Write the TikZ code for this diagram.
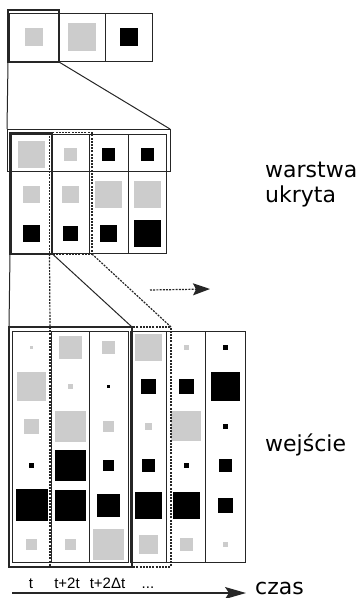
\documentclass[tikz,border=0pt]{standalone}
\usepackage{fontspec}
\setmainfont{DejaVu Sans}
\newfontfamily\ticksfont{Liberation Sans}
\usepackage{xcolor}
\usetikzlibrary{arrows.meta}
\definecolor{sqgray}{HTML}{CCCCCC}
\definecolor{framecol}{HTML}{262626}
\tikzset{
	cellframe/.style={draw=framecol,line width=1pt},
	selframe/.style={draw=framecol,line width=1.4pt},
	dotframe/.style={draw=framecol,line width=1.2pt,dash pattern=on 2pt off 1.2pt},
	sidetext/.style={font=\fontsize{22}{24.5}\selectfont,anchor=base west,inner sep=0pt,align=left},
	ticktext/.style={font=\ticksfont\fontsize{15}{15}\selectfont,anchor=base,inner sep=0pt}
}

\begin{document}
\begin{tikzpicture}[x=1pt,y=-1pt]
		\useasboundingbox (0,0) rectangle (362,598);
		\foreach \xa/\xb/\s/\c in {9/59/18/sqgray,59/105/28/sqgray,105/152/18/black}{
			\draw[cellframe] (\xa,13) rectangle (\xb,61);
			\fill[fill=\c] ({(\xa+\xb)/2-\s/2},{37-\s/2}) rectangle ++(\s,\s);
		}
		\coordinate (top sel nw) at (8,10);
		\coordinate (top sel se) at (59,62);
		\draw[selframe] (top sel nw) rectangle (top sel se);
		\coordinate (hid row nw) at (7,129);
		\coordinate (hid row se) at (170,171);
		\draw[cellframe] (hid row nw) rectangle (hid row se);
		\draw[cellframe] (top sel nw |- top sel se) -- (hid row nw);
		\draw[cellframe] (top sel se) -- (hid row nw -| hid row se);
		\foreach \xa/\xb/\list in {11/51/{27/sqgray,17/sqgray,17/black},51/89.5/{13/sqgray,17/sqgray,15/black},89.5/128/{13/black,27/sqgray,17/black},128/166.5/{13/black,27/sqgray,27/black}}{
			\draw[cellframe] (\xa,134) rectangle (\xb,171) (\xa,171) rectangle (\xb,253);
			\foreach \s/\c [count=\r from 0] in \list
				\fill[fill=\c] ({(\xa+\xb)/2-\s/2},{154.5+39.5*\r-\s/2}) rectangle ++(\s,\s);
		}
		\coordinate (hid sel nw) at (10,133);
		\coordinate (hid sel se) at (52.5,254);
		\coordinate (hid dot nw) at (49.5,132.5);
		\coordinate (hid dot se) at (92,254);
		\draw[selframe] (hid sel nw) rectangle (hid sel se);
		\draw[dotframe] (hid dot nw) rectangle (hid dot se);
		\foreach \xa/\xb/\list in {12.3/51/{3/sqgray,29/sqgray,15/sqgray,5/black,32/black,11/sqgray},51/89.3/{23/sqgray,5/sqgray,31/sqgray,31/black,31/black,11/sqgray},89.3/128.3/{13/sqgray,3/black,11/sqgray,11/black,23/black,31/sqgray},130/166.7/{27/sqgray,15/black,7/sqgray,13/black,27/black,19/sqgray},166.7/205.7/{5/sqgray,15/black,30/sqgray,5/black,27/black,13/sqgray},205.7/245.7/{5/black,29/black,5/black,13/black,15/black,5/sqgray}}{
			\draw[cellframe] (\xa,331) rectangle (\xb,562);
			\foreach \s/\c [count=\r from 0] in \list
				\fill[fill=\c] ({(\xa+\xb)/2-\s/2},{347+39.5*\r-\s/2}) rectangle ++(\s,\s);
		}
		\coordinate (in sel nw) at (9,327);
		\coordinate (in sel se) at (132,567);
		\coordinate (in dot nw) at (50,327);
		\coordinate (in dot se) at (171,567);
		\draw[selframe] (in sel nw) rectangle (in sel se);
		\draw[dotframe] (in dot nw) rectangle (in dot se);
		\draw[cellframe] (hid sel nw |- hid sel se) -- (in sel nw);
		\draw[cellframe] (hid sel se) -- (in sel nw -| in sel se);
		\draw[dotframe] (hid dot nw |- hid dot se) -- (in dot nw);
		\draw[dotframe] (hid dot se) -- (in dot nw -| in dot se);
		\coordinate (shift a) at (150,290);
		\coordinate (shift b) at (210,289);
		\draw[dotframe,-{Stealth[length=17pt,width=12pt,inset=3pt]}] (shift a) -- (shift b);
		\coordinate (time a) at (12,593);
		\coordinate (time b) at (246,593);
		\draw[draw=framecol,line width=1.2pt,-{Stealth[length=21pt,width=12pt,inset=4pt]}] (time a) -- (time b);
		\node[ticktext] (t0) at (31,588) {t};
		\node[ticktext] (t1) at (67,588) {t+2t};
		\node[ticktext] (t2) at (107.5,588) {t+2Δt};
		\node[ticktext] (t3) at (148,588) {...};
		\node[sidetext] (hidden label) at (265,202) {warstwa\\ukryta};
		\node[sidetext] (input label) at (265,451.5) {wejście};
		\node[sidetext] (time label) at (255,594) {czas};
	\end{tikzpicture}
\end{document}
